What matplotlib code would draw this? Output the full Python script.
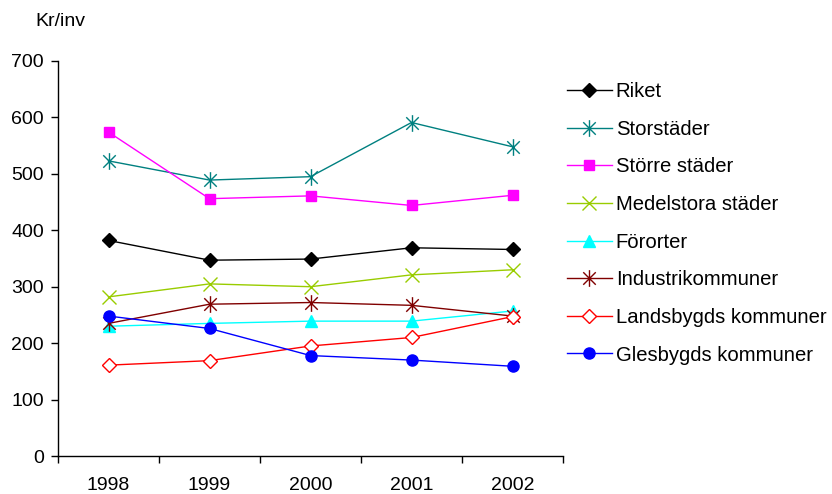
import matplotlib
matplotlib.use("Agg")
import matplotlib.pyplot as plt
from matplotlib.path import Path
import numpy as np

plt.rcParams['font.family'] = ['Liberation Sans', 'DejaVu Sans']

years = ["1998", "1999", "2000", "2001", "2002"]

riket = [382, 347, 349, 369, 366]
storstader = [523, 489, 495, 591, 548]
storre_stader = [574, 456, 461, 444, 462]
medelstora_stader = [282, 305, 300, 321, 330]
fororter = [230, 235, 239, 239, 257]
industrikommuner = [235, 269, 272, 267, 248]
landsbygds = [161, 169, 195, 210, 247]
glesbygds = [248, 226, 178, 170, 159]

# Asterisk marker: vertical stroke plus two diagonals
star = Path(
    [(0, -1), (0, 1), (-0.75, -0.75), (0.75, 0.75), (-0.75, 0.75), (0.75, -0.75)],
    [Path.MOVETO, Path.LINETO, Path.MOVETO, Path.LINETO, Path.MOVETO, Path.LINETO],
)

series = [
    ("Riket", riket, dict(color="black", marker="D", ms=7, mfc="black", mec="black")),
    ("Storstäder", storstader, dict(color="#008080", marker=star, ms=12, mfc="none", mec="#008080", mew=1.0)),
    ("Större städer", storre_stader, dict(color="#FF00FF", marker="s", ms=7.5, mfc="#FF00FF", mec="#FF00FF")),
    ("Medelstora städer", medelstora_stader, dict(color="#99CC00", marker="x", ms=10, mew=1.0, mec="#99CC00")),
    ("Förorter", fororter, dict(color="#00FFFF", marker="^", ms=9, mfc="#00FFFF", mec="#00FFFF")),
    ("Industrikommuner", industrikommuner, dict(color="#800000", marker=star, ms=12, mfc="none", mec="#800000", mew=1.0)),
    ("Landsbygds kommuner", landsbygds, dict(color="#FF0000", marker="D", ms=7, mfc="white", mec="#FF0000", mew=1.0)),
    ("Glesbygds kommuner", glesbygds, dict(color="#0000FF", marker="o", ms=8, mfc="#0000FF", mec="#0000FF")),
]

fig = plt.figure(figsize=(8.32, 4.94), dpi=100)
ax = fig.add_axes([58 / 832, 38 / 494, 505 / 832, 395 / 494])

x = np.arange(len(years))
for label, vals, style in series:
    ax.plot(x, vals, label=label, lw=1.0, **style)

ax.set_xlim(-0.5, len(years) - 0.5)
ax.set_ylim(0, 700)
ax.set_yticks(np.arange(0, 701, 100))
ax.set_xticks(x)
ax.set_xticklabels(years)
ax.set_xticks(np.arange(-0.5, len(years), 1.0), minor=True)
ax.tick_params(axis="x", which="major", length=0, pad=15, labelsize=14)
ax.tick_params(axis="x", which="minor", length=5, direction="out", width=1)
ax.tick_params(axis="y", length=5, direction="out", width=1, labelsize=14, pad=5)

for s in ("top", "right"):
    ax.spines[s].set_visible(False)
for s in ("left", "bottom"):
    ax.spines[s].set_linewidth(1.0)

fig.text(35 / 832, 1 - 22 / 494, "Kr/inv", fontsize=14, va="center", ha="left")

leg = ax.legend(
    loc="upper left",
    bbox_to_anchor=(567 / 832, 1 - 82 / 494),
    bbox_transform=fig.transFigure,
    frameon=False,
    fontsize=14.6,
    handlelength=2.2,
    handletextpad=0.2,
    labelspacing=0.92,
    borderaxespad=0,
    borderpad=0,
)

fig.savefig("out.png", dpi=100)
